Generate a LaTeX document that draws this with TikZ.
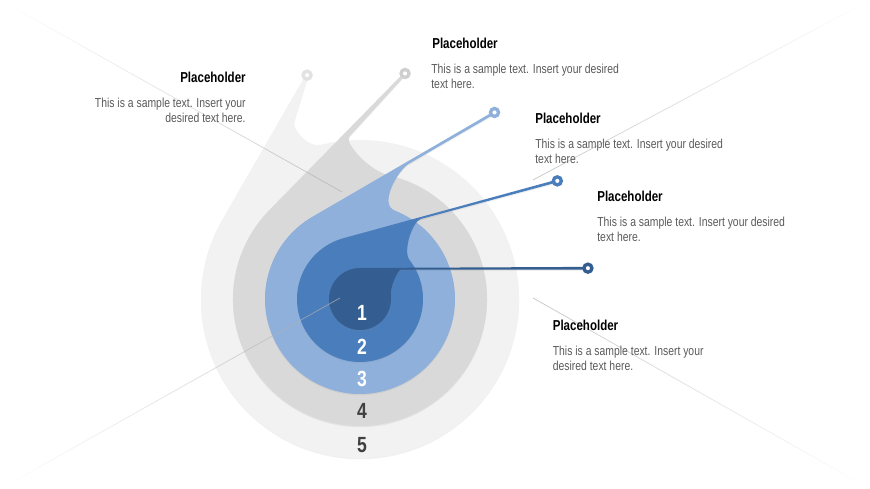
\documentclass[tikz,border=0pt]{standalone}
\usepackage{fontspec}
\setmainfont{Liberation Sans}
\newfontfamily\slimfont[FakeStretch=0.8]{Liberation Sans}
\usetikzlibrary{calc,fadings,shadows}

\definecolor{lay1}{HTML}{345E91}
\definecolor{lay2}{HTML}{4A7DBB}
\definecolor{lay3}{HTML}{8EB0DB}
\definecolor{lay4}{HTML}{D9D9D9}
\definecolor{lay5}{HTML}{F2F2F2}
\definecolor{ring5}{HTML}{E2E2E2}
\definecolor{ring4}{HTML}{CFCFCF}
\definecolor{txtgray}{HTML}{595959}
\definecolor{numgray}{HTML}{404040}

\tikzfading[name=fadein, left color=transparent!100, right color=transparent!30]
\tikzfading[name=fadeout, left color=transparent!30, right color=transparent!100]

\begin{document}
\begin{tikzpicture}[x=0.02cm, y=0.02cm,
    ring/.style={line width=1.9pt, fill=white},
    ttl/.style={font=\slimfont\bfseries\fontsize{8.2}{9}\selectfont, text=black, inner sep=0pt},
    txt/.style={font=\slimfont\fontsize{7.4}{8.5}\selectfont, text=txtgray, inner sep=0pt},
    num/.style={font=\slimfont\bfseries\fontsize{12.5}{14}\selectfont, inner sep=0pt},
    diag/.style={line width=0.45pt, draw=gray!60}]
    \useasboundingbox (0,0) rectangle (870,489);
    \coordinate (ctr) at (360,190);

    % drops, back to front
    \foreach \k/\rad/\ang/\sd/\wdt/\qa/\ka/\kb/\fcol/\rcol in {
        5/159/103.3/45/12/104/8/15/lay5/ring5,
        4/127/78.7/84/5/77/8/20/lay4/ring4,
        3/95/54.2/100/2/68.5/12/18/lay3/lay3,
        2/63/30.9/142/1.5/38/8/12/lay2/lay2,
        1/31/7.7/187/1.5/7/3/8/lay1/lay1}
    {
        \pgfmathsetmacro\tang{\ang+acos(\rad/230)}
        \coordinate (ring\k) at ($(ctr)+(\ang:230)$);
        \coordinate (tan\k) at ($(ctr)+(\tang:\rad)$);
        \coordinate (flr\k) at ($(ring\k)+({\tang+90}:\sd)+({\tang+180}:\wdt)$);
        \coordinate (joint\k) at ($(ctr)+(\qa:\rad)$);
        \path[fill=\fcol, drop shadow={opacity=0.12, shadow xshift=0pt, shadow yshift=-0.7pt}]
            (tan\k) -- ($(ring\k)+(\tang:1.3)$) -- ($(ring\k)+({\tang+180}:1.4)$) -- (flr\k)
            .. controls ($(flr\k)+({\tang+90}:\ka)$) and ($(joint\k)+({\qa+90}:\kb)$) .. (joint\k)
            arc[start angle=\qa, end angle=\tang-360, radius=\rad] -- cycle;
        \draw[ring, draw=\rcol] (ring\k) circle (4);
    }

    \foreach \k/\yy/\tc in {1/176/white, 2/142/white, 3/110/white, 4/78/numgray, 5/44/numgray}
        \node[num, text=\tc] (num\k) at (362,\yy) {\k};

    % background cross
    \coordinate (cnrNW) at (0,489);
    \coordinate (cnrSW) at (0,0);
    \coordinate (cnrNE) at (870,489);
    \coordinate (cnrSE) at (870,0);
    \coordinate (endNW) at (342,297);
    \coordinate (endSW) at (340,191);
    \coordinate (endNE) at (533,309);
    \coordinate (endSE) at (533,191);
    \draw[diag, path fading=fadein] (cnrNW) -- (endNW);
    \draw[diag, path fading=fadein] (cnrSW) -- (endSW);
    \draw[diag, path fading=fadeout] (endNE) -- (cnrNE);
    \draw[diag, path fading=fadeout] (endSE) -- (cnrSE);

    % labels
    \node[ttl, anchor=base east] (head5) at (246,406.3) {Placeholder};
    \node[txt, align=right, anchor=base east] (body5) at (246,366.3) {This is a sample text. Insert your\\desired text here.};
    \node[ttl, anchor=base west] (head4) at (432,440.3) {Placeholder};
    \node[txt, align=left, anchor=base west] (body4) at (431,400.3) {This is a sample text. Insert your desired\\text here.};
    \node[ttl, anchor=base west] (head3) at (535,365.3) {Placeholder};
    \node[txt, align=left, anchor=base west] (body3) at (535,325.3) {This is a sample text. Insert your desired\\text here.};
    \node[ttl, anchor=base west] (head2) at (597,287.3) {Placeholder};
    \node[txt, align=left, anchor=base west] (body2) at (597,247.3) {This is a sample text. Insert your desired\\text here.};
    \node[ttl, anchor=base west] (head1) at (552.5,158.3) {Placeholder};
    \node[txt, align=left, anchor=base west] (body1) at (552.5,118.3) {This is a sample text. Insert your\\desired text here.};
\end{tikzpicture}
\end{document}
